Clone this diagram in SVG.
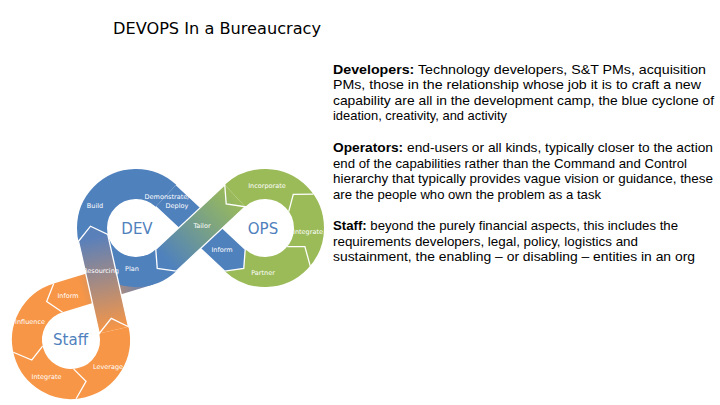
<svg xmlns="http://www.w3.org/2000/svg" width="720" height="405" viewBox="0 0 720 405">
<defs>
<style>
.lbl{font-family:"DejaVu Sans",Verdana,sans-serif;font-size:6.5px;fill:#fff;text-anchor:middle}
.hub{font-family:"DejaVu Sans",Verdana,sans-serif;font-size:15px;fill:#4F81BD;text-anchor:middle}
.body{font-family:"Liberation Sans",Arial,sans-serif;font-size:13.6px;fill:#000}
.title{font-family:"DejaVu Sans",Verdana,sans-serif;font-size:16.5px;fill:#000}
.sep{fill:none;stroke:#fff;stroke-width:1.3;stroke-linejoin:miter}
.ring{fill:none;stroke-width:30}
</style>
<linearGradient id="gTailor" gradientUnits="userSpaceOnUse" x1="234.99" y1="195.82" x2="166.01" y2="260.18">
<stop offset="0" stop-color="#9BBB59"/><stop offset="1" stop-color="#4F81BD"/>
</linearGradient>
<linearGradient id="gRes" gradientUnits="userSpaceOnUse" x1="113.87" y1="330.10" x2="93.13" y2="237.90">
<stop offset="0" stop-color="#F79646"/><stop offset="1" stop-color="#5A80BA"/>
</linearGradient>
<linearGradient id="gInf" gradientUnits="userSpaceOnUse" x1="148.86" y1="270.08" x2="58.14" y2="297.92">
<stop offset="0" stop-color="#5A80BA"/><stop offset="0.75" stop-color="#F79646"/><stop offset="1" stop-color="#F79646"/>
</linearGradient>
</defs>
<rect width="720" height="405" fill="#fff"/>
<text class="title" x="113" y="34" textLength="208" lengthAdjust="spacingAndGlyphs">DEVOPS In a Bureaucracy</text>

<g id="connectors">
<g id="band-staff-inform">
<polygon points="144.48,255.73 53.75,283.58 46.67,301.44 62.52,312.27 153.25,284.42" fill="url(#gInf)"/>
</g>
</g>

<g id="staff">
<path class="ring" stroke="#F79646" d="M113.89,330.18 A44,44 0 1 1 58.21,297.90"/>
</g>
<g id="ops">
<path class="ring" stroke="#9BBB59" d="M234.99,195.82 A44,44 0 1 1 234.99,260.18"/>
</g>
<g id="dev">
<path class="ring" stroke="#4F81BD" d="M166.01,260.18 A44,44 0 1 1 166.01,195.82"/>
</g>

<g id="connectors-top">
<g id="band-inform">
<polygon points="176.24,184.85 245.22,249.21 243.76,268.36 224.76,271.15 155.78,206.79" fill="#4F81BD"/>
<path class="sep" d="M155.78,206.79 L224.76,271.15 L243.76,268.36 L245.22,249.21 L176.24,184.85"/>
</g>
<g id="band-tailor">
<polygon points="224.76,184.85 245.22,206.79 176.24,271.15 157.24,268.36 155.78,249.21" fill="url(#gTailor)"/>
<path class="sep" d="M224.76,184.85 L226.22,204.0 L245.22,206.79 L176.24,271.15 L157.24,268.36 L155.78,249.21 Z"/>
</g>
<g id="band-resourcing">
<polygon points="128.49,326.73 99.26,333.48 78.51,241.27 90.50,226.19 107.74,234.52" fill="url(#gRes)"/>
<path class="sep" d="M128.49,326.73 L111.24,318.39 L99.26,333.48 L78.51,241.27 L90.50,226.19 L107.74,234.52 Z"/>
</g>
</g>

<g id="separators">
<path class="sep" d="M53.75,283.58 L46.67,301.44 L62.52,312.27"/>
<path class="sep" d="M42.63,346.03 L31.80,359.98 L13.29,352.27"/>
<path class="sep" d="M73.53,368.89 L86.05,381.35 L76.14,398.78"/>
<path class="sep" d="M288.76,211.37 L293.28,194.29 L313.33,194.16"/>
<path class="sep" d="M287.21,246.64 L304.88,246.59 L310.20,265.92"/>
</g>

<g id="labels">
<text class="lbl" x="95" y="207.5">Build</text>
<text class="lbl" x="167" y="199">Demonstrate/</text>
<text class="lbl" x="177" y="207.5">Deploy</text>
<text class="lbl" x="202" y="227.5">Tailor</text>
<text class="lbl" x="222" y="252">Inform</text>
<text class="lbl" x="132" y="270.5">Plan</text>
<text class="lbl" x="101" y="272.5">Resourcing</text>
<text class="lbl" x="267" y="187.5">Incorporate</text>
<text class="lbl" x="308" y="233.5">Integrate</text>
<text class="lbl" x="263" y="274.5">Partner</text>
<text class="lbl" x="68" y="298">Inform</text>
<text class="lbl" x="30" y="323.5">Influence</text>
<text class="lbl" x="46.5" y="378.5">Integrate</text>
<text class="lbl" x="108" y="368.5">Leverage</text>
<text class="hub" x="137" y="234">DEV</text>
<text class="hub" x="263" y="234">OPS</text>
<text class="hub" x="70.5" y="345">Staff</text>
</g>

<g id="description">
<text class="body" x="333" y="73.5" textLength="373" lengthAdjust="spacingAndGlyphs"><tspan font-weight="bold">Developers:</tspan> Technology developers, S&amp;T PMs, acquisition</text>
<text class="body" x="333" y="89" textLength="368" lengthAdjust="spacingAndGlyphs">PMs, those in the relationship whose job it is to craft a new</text>
<text class="body" x="333" y="104.5" textLength="381" lengthAdjust="spacingAndGlyphs">capability are all in the development camp, the blue cyclone of</text>
<text class="body" x="333" y="120" textLength="174" lengthAdjust="spacingAndGlyphs">ideation, creativity, and activity</text>
<text class="body" x="333" y="152" textLength="380" lengthAdjust="spacingAndGlyphs"><tspan font-weight="bold">Operators:</tspan> end-users or all kinds, typically closer to the action</text>
<text class="body" x="333" y="167.5" textLength="354" lengthAdjust="spacingAndGlyphs">end of the capabilities rather than the Command and Control</text>
<text class="body" x="333" y="183" textLength="380" lengthAdjust="spacingAndGlyphs">hierarchy that typically provides vague vision or guidance, these</text>
<text class="body" x="333" y="198.5" textLength="268" lengthAdjust="spacingAndGlyphs">are the people who own the problem as a task</text>
<text class="body" x="333" y="230" textLength="345" lengthAdjust="spacingAndGlyphs"><tspan font-weight="bold">Staff:</tspan> beyond the purely financial aspects, this includes the</text>
<text class="body" x="333" y="245.5" textLength="305" lengthAdjust="spacingAndGlyphs">requirements developers, legal, policy, logistics and</text>
<text class="body" x="333" y="261" textLength="362" lengthAdjust="spacingAndGlyphs">sustainment, the enabling – or disabling – entities in an org</text>
</g>
</svg>
